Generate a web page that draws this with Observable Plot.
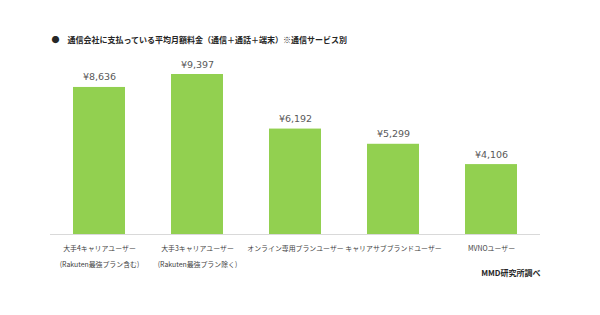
<!DOCTYPE html>
<html>
<head>
<meta charset="utf-8">
<script src="https://cdn.jsdelivr.net/npm/d3@7"></script>
<script src="https://cdn.jsdelivr.net/npm/@observablehq/plot@0.6"></script>
<style>
  html, body { margin: 0; padding: 0; background: #fff; }
  #chart { width: 600px; height: 315px; }
</style>
</head>
<body>
<div id="chart"></div>
<script>
const categories = [
  "大手4キャリアユーザー\n(Rakuten最強プラン含む)",
  "大手3キャリアユーザー\n(Rakuten最強プラン除く)",
  "オンライン専用プランユーザー",
  "キャリアサブブランドユーザー",
  "MVNOユーザー"
];
const values = [8636, 9397, 6192, 5299, 4106];
const titleText = "●\u3000通信会社に支払っている平均月額料金（通信＋通話＋端末）※通信サービス別";
const sourceText = "MMD研究所調べ";

const data = categories.map((c, i) => ({ category: c, value: values[i] }));
const jp = "'Noto Sans CJK JP', 'Noto Sans', sans-serif";

const chart = Plot.plot({
  width: 600,
  height: 315,
  marginLeft: 50,
  marginRight: 60,
  marginTop: 74,
  marginBottom: 81,
  style: { background: "#fff", fontFamily: jp },
  x: { domain: categories, paddingInner: 0.47, paddingOuter: 0.235, axis: null },
  y: { domain: [0, 9397], axis: null },
  marks: [
    Plot.barY(data, { x: "category", y: "value", fill: "#92d050" }),
    Plot.ruleY([0], { stroke: "#d9d9d9", strokeWidth: 1 }),
    Plot.text(data, {
      x: "category", y: "value",
      text: d => "¥" + d3.format(",")(d.value),
      dy: -7, lineAnchor: "bottom",
      fontSize: 9.5, fill: "#595959",
      fontFamily: "'DejaVu Sans', sans-serif"
    }),
    Plot.text(data, {
      x: "category", text: "category",
      frameAnchor: "bottom", lineAnchor: "top", dy: 5,
      fontSize: 6.9, lineHeight: 2.3, fill: "#404040"
    }),
    Plot.text([titleText], {
      frameAnchor: "top-left", textAnchor: "start", lineAnchor: "middle",
      dx: 1, dy: -34, fontSize: 8, fontWeight: "bold", fill: "#262626"
    }),
    Plot.text([sourceText], {
      frameAnchor: "bottom-right", textAnchor: "end", lineAnchor: "middle",
      dx: 0, dy: 39, fontSize: 8, fontWeight: "bold", fill: "#262626"
    })
  ]
});
document.getElementById("chart").appendChild(chart);
</script>
</body>
</html>
